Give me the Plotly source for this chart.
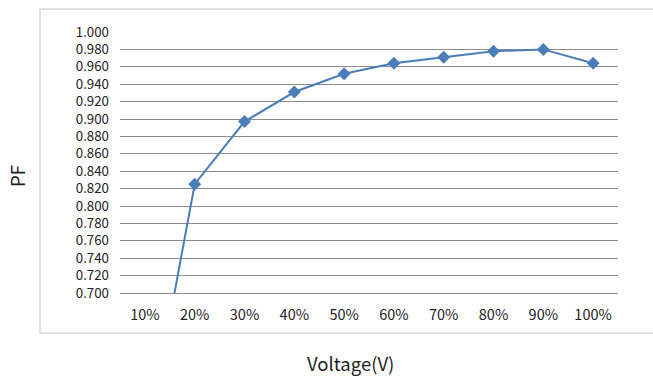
import plotly.graph_objects as go

categories = ["10%", "20%", "30%", "40%", "50%", "60%", "70%", "80%", "90%", "100%"]
pf_values = [0.517, 0.825, 0.897, 0.931, 0.952, 0.964, 0.971, 0.978, 0.980, 0.964]
y_ticks = [round(0.70 + 0.02 * i, 2) for i in range(16)]
y_tick_text = [f"{v:.3f}" for v in y_ticks]

FONT = "Noto Sans CJK SC"
W, H = 653, 376
L, R, T, B = 120, 35, 32, 83
pw, ph = W - L - R, H - T - B

def px_x(p):
    return (p - L) / pw

def px_y(p):
    return (H - B - p) / ph

fig = go.Figure()
fig.add_trace(go.Scatter(
    x=categories, y=pf_values, mode="lines+markers",
    line=dict(color="#4a7ebb", width=2),
    marker=dict(symbol="diamond", size=10, color="#4a7ebb"),
    cliponaxis=True, showlegend=False,
))

fig.add_shape(type="rect", xref="paper", yref="paper",
              x0=px_x(40), x1=px_x(660), y0=px_y(333), y1=px_y(9),
              line=dict(color="#d9d9d9", width=1.5), layer="below")

fig.add_annotation(text="PF", xref="paper", yref="paper", x=px_x(17), y=px_y(176),
                   showarrow=False, textangle=-90, font=dict(family=FONT, size=18.5, color="#222"),
                   xanchor="center", yanchor="middle")
fig.add_annotation(text="Voltage(V)", xref="paper", yref="paper", x=px_x(350), y=px_y(363),
                   showarrow=False, font=dict(family=FONT, size=18.5, color="#222"),
                   xanchor="center", yanchor="middle")

fig.update_layout(
    width=W, height=H, margin=dict(l=L, r=R, t=T, b=B),
    paper_bgcolor="white", plot_bgcolor="white",
    font=dict(family=FONT, size=14, color="#222"),
    xaxis=dict(type="category", range=[-0.5, 9.5], showgrid=False, zeroline=False,
               showline=True, linecolor="#8c8c8c", linewidth=1,
               ticks="", ticklabelstandoff=9, tickfont=dict(size=14.5)),
    yaxis=dict(range=[0.7, 1.0], tickvals=y_ticks, ticktext=y_tick_text,
               showgrid=True, gridcolor="#8c8c8c", gridwidth=1, zeroline=False,
               showline=False, ticks="", ticklabelstandoff=10, tickfont=dict(size=13.3)),
)

fig.write_html("out.html")
